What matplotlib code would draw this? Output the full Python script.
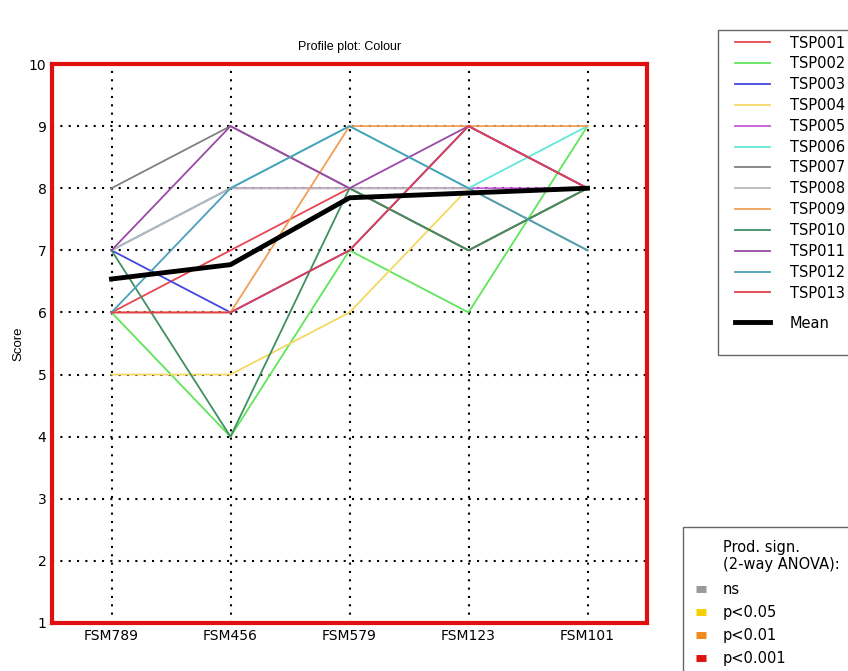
import matplotlib
matplotlib.use("Agg")
import numpy as np
import matplotlib.pyplot as plt
from matplotlib.lines import Line2D
from matplotlib.patches import Rectangle

# products (x axis) and assessor scores
products = ['FSM789', 'FSM456', 'FSM579', 'FSM123', 'FSM101']
assessors = ['TSP001', 'TSP002', 'TSP003', 'TSP004', 'TSP005', 'TSP006', 'TSP007',
             'TSP008', 'TSP009', 'TSP010', 'TSP011', 'TSP012', 'TSP013']

tsp001 = [6, 7, 8, 7, 8]
tsp002 = [6, 4, 7, 6, 9]
tsp003 = [7, 6, 7, 9, 8]
tsp004 = [5, 5, 6, 8, 7]
tsp005 = [7, 8, 8, 8, 8]
tsp006 = [7, 8, 9, 8, 9]
tsp007 = [8, 9, 8, 7, 8]
tsp008 = [7, 8, 8, 8, 7]
tsp009 = [6, 6, 9, 9, 9]
tsp010 = [7, 4, 8, 7, 8]
tsp011 = [7, 9, 8, 9, 8]
tsp012 = [6, 8, 9, 8, 7]
tsp013 = [6, 6, 7, 9, 8]

scores = [tsp001, tsp002, tsp003, tsp004, tsp005, tsp006, tsp007,
          tsp008, tsp009, tsp010, tsp011, tsp012, tsp013]
colours = ['#e8474f', '#5ee65a', '#4646e0', '#f5d862', '#c45ad6', '#62e8d6', '#808080',
           '#b8b8b8', '#f0a055', '#3f8f5f', '#9a4aa6', '#4aa0ba', '#e0404e']

sign_labels = ['ns', 'p<0.05', 'p<0.01', 'p<0.001']
sign_colours = ['#999999', '#f5d000', '#f08a1a', '#e01010']

W, H = 848, 671
fig = plt.figure(figsize=(W / 100, H / 100), dpi=100)
ax = fig.add_axes([52 / W, 48 / H, 595 / W, 559 / H])


def fx(px):
    return px / W


def fy(py):
    return 1 - py / H


x = np.arange(len(products))
for name, vals, c in zip(assessors, scores, colours):
    ax.plot(x, vals, color=c, lw=1.3, label=name)
mean = np.mean(np.array(scores), axis=0)
ax.plot(x, mean, color='black', lw=3.5, label='Mean')

ax.set_xlim(-0.5, len(products) - 0.5)
ax.set_ylim(1, 10)
ax.set_xticks(x)
ax.set_xticklabels(products, fontsize=10)
ax.set_yticks(range(1, 11))
ax.tick_params(axis='y', labelsize=10)
ax.tick_params(length=0, pad=4)
ax.grid(True, color='black', linestyle=(0, (1, 3)), lw=1.5)
for sp in ax.spines.values():
    sp.set_color('#e01010')
    sp.set_linewidth(3)

ax.set_title('Profile plot: Colour', fontsize=9, family='Liberation Sans', pad=10)
ax.set_ylabel('Score', fontsize=9.5, family='Liberation Sans', labelpad=3)

# assessor legend + mean entry inside one drawn box
handles, labels = ax.get_legend_handles_labels()
fig.add_artist(Rectangle((fx(718), fy(355)), fx(160), (355 - 30) / H, transform=fig.transFigure,
                         facecolor='white', edgecolor='#666666', lw=1, clip_on=False))
leg1 = fig.legend(handles[:-1], labels[:-1], loc='upper left', bbox_to_anchor=(fx(735), fy(35.5)),
                  fontsize=10.5, frameon=False, handlelength=2.4, labelspacing=0.40,
                  borderpad=0, handletextpad=1.37, borderaxespad=0)
leg_mean = fig.legend(handles[-1:], labels[-1:], loc='upper left', bbox_to_anchor=(fx(735), fy(315.5)),
                      fontsize=10.5, frameon=False, handlelength=2.4, borderpad=0,
                      handletextpad=1.37, borderaxespad=0)
leg_mean.get_lines()[0].set_linewidth(3.5)

# product significance legend
fig.add_artist(Rectangle((fx(683), fy(690)), fx(180), (690 - 527) / H, transform=fig.transFigure,
                         facecolor='white', edgecolor='#666666', lw=1, clip_on=False))
fig.text(fx(723), fy(540), 'Prod. sign.\n(2-way ANOVA):', fontsize=10.5, va='top', ha='left',
         linespacing=1.15)
sig_handles = [Line2D([], [], color=c, lw=5, solid_capstyle='butt') for c in sign_colours]
leg2 = fig.legend(sig_handles, sign_labels, loc='upper left', bbox_to_anchor=(fx(696), fy(582.5)),
                  fontsize=10.5, frameon=False, handlelength=0.7, labelspacing=0.53,
                  borderpad=0, handletextpad=1.15, borderaxespad=0)

fig.savefig('out.png', dpi=100)
